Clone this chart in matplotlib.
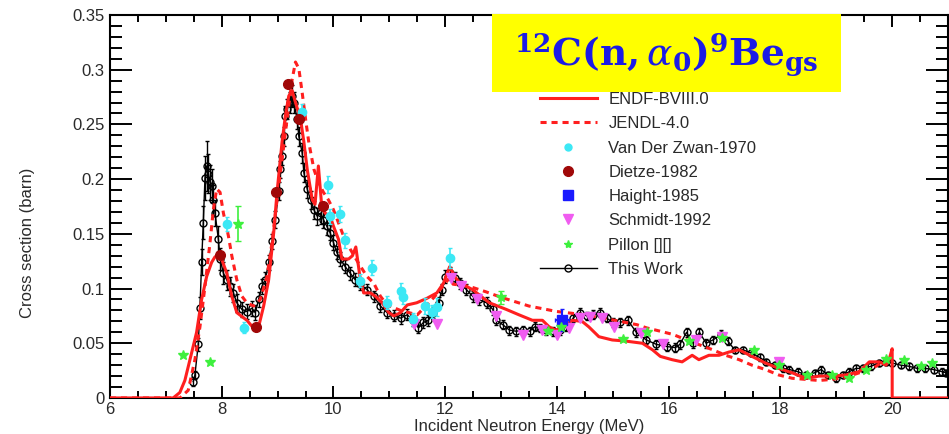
import numpy as np
import matplotlib
matplotlib.use("Agg")
import matplotlib.pyplot as plt
from matplotlib.lines import Line2D
from matplotlib.patches import Rectangle
from matplotlib.ticker import MultipleLocator, FuncFormatter

plt.rcParams["font.family"] = ["Liberation Sans", "DejaVu Sans"]
plt.rcParams["mathtext.fontset"] = "dejavuserif"

# ---------------- evaluated data ----------------
endf_e = [6.0, 7.13, 7.25, 7.34, 7.46, 7.55, 7.64, 7.73, 7.82, 7.88,
          7.97, 8.09, 8.18, 8.27, 8.45, 8.60, 8.66, 8.75, 8.84, 8.93,
          8.99, 9.08, 9.14, 9.20, 9.26, 9.32, 9.41, 9.47, 9.53, 9.62,
          9.67, 9.73, 9.79, 9.85, 9.94, 10.00, 10.09, 10.15, 10.27, 10.34,
          10.40, 10.47, 10.54, 10.66, 10.75, 10.87, 10.99, 11.08, 11.20, 11.32,
          11.49, 11.67, 11.85, 11.97, 12.08, 12.17, 12.26, 12.38, 12.49, 12.79,
          13.09, 13.32, 13.56, 13.74, 13.86, 13.98, 14.12, 14.27, 14.45, 14.57,
          14.75, 14.99, 15.23, 15.53, 15.71, 15.85, 16.06, 16.24, 16.42, 16.54,
          16.72, 16.90, 17.08, 17.26, 17.49, 17.73, 17.97, 18.21, 18.45, 18.69,
          18.93, 19.17, 19.41, 19.59, 19.77, 19.89, 19.95, 20.0, 20.0, 21.0]
endf_xs = [0.0, 0.0, 0.005, 0.016, 0.041, 0.060, 0.090, 0.111, 0.124, 0.129,
           0.131, 0.114, 0.093, 0.078, 0.071, 0.062, 0.065, 0.084, 0.108, 0.151,
           0.188, 0.234, 0.258, 0.276, 0.281, 0.270, 0.255, 0.234, 0.209, 0.181,
           0.177, 0.212, 0.175, 0.169, 0.166, 0.157, 0.145, 0.127, 0.127, 0.130,
           0.138, 0.112, 0.096, 0.096, 0.093, 0.087, 0.078, 0.075, 0.078, 0.085,
           0.087, 0.091, 0.096, 0.105, 0.120, 0.111, 0.105, 0.102, 0.099, 0.087,
           0.081, 0.076, 0.071, 0.071, 0.065, 0.062, 0.065, 0.071, 0.070, 0.065,
           0.056, 0.053, 0.052, 0.050, 0.044, 0.038, 0.035, 0.033, 0.039, 0.035,
           0.039, 0.039, 0.042, 0.044, 0.038, 0.032, 0.027, 0.023, 0.018, 0.020,
           0.020, 0.021, 0.024, 0.033, 0.033, 0.030, 0.036, 0.045, 0.0, 0.0]

jendl_e = [6.0, 7.25, 7.40, 7.52, 7.61, 7.70, 7.79, 7.85, 7.91, 7.97,
           8.03, 8.12, 8.18, 8.27, 8.36, 8.45, 8.57, 8.69, 8.81, 8.90,
           8.99, 9.08, 9.17, 9.26, 9.32, 9.38, 9.44, 9.50, 9.56, 9.65,
           9.73, 9.82, 9.91, 10.00, 10.09, 10.18, 10.30, 10.45, 10.60, 10.72,
           10.84, 10.96, 11.20, 11.50, 11.80, 12.08, 12.14, 12.43, 12.73, 13.00,
           13.50, 14.00, 14.50, 14.83, 15.13, 15.43, 15.61, 15.85, 16.08, 16.32,
           16.79, 17.02, 17.26, 17.49, 17.73, 17.97, 18.21, 18.45, 18.69, 18.93,
           19.17, 19.41, 19.65, 19.83, 19.95, 20.0]
jendl_xs = [0.0, 0.0, 0.007, 0.035, 0.065, 0.102, 0.142, 0.172, 0.191, 0.188,
            0.169, 0.148, 0.130, 0.108, 0.093, 0.087, 0.084, 0.090, 0.111, 0.142,
            0.181, 0.218, 0.255, 0.291, 0.307, 0.301, 0.279, 0.255, 0.233, 0.209,
            0.197, 0.188, 0.181, 0.172, 0.160, 0.148, 0.136, 0.123, 0.111, 0.105,
            0.093, 0.085, 0.080, 0.076, 0.092, 0.110, 0.104, 0.102, 0.097, 0.092,
            0.084, 0.079, 0.076, 0.073, 0.070, 0.067, 0.064, 0.061, 0.058, 0.053,
            0.044, 0.039, 0.035, 0.030, 0.026, 0.021, 0.018, 0.017, 0.016, 0.017,
            0.019, 0.023, 0.027, 0.033, 0.036, 0.037]

# ---------------- older measurements ----------------
vdz_e = [8.09, 8.39, 9.43, 9.91, 9.94, 10.12, 10.21, 10.48, 10.69, 10.96,
         11.20, 11.24, 11.42, 11.64, 11.77, 11.85, 12.08]
vdz_xs = [0.159, 0.064, 0.261, 0.195, 0.166, 0.168, 0.144, 0.107, 0.119, 0.087,
          0.098, 0.092, 0.072, 0.084, 0.079, 0.083, 0.128]
vdz_err = [0.006, 0.005, 0.008, 0.008, 0.007, 0.007, 0.007, 0.006, 0.007, 0.006,
           0.007, 0.006, 0.006, 0.007, 0.006, 0.008, 0.009]

dietze_e = [7.97, 8.62, 8.97, 9.19, 9.39, 9.82]
dietze_xs = [0.131, 0.065, 0.188, 0.287, 0.255, 0.175]

haight_e = [14.09]
haight_xs = [0.071]
haight_xerr = [0.13]
haight_yerr = [0.010]

schmidt_e = [11.45, 11.86, 12.10, 12.28, 12.56, 12.91, 13.39, 13.74, 14.00, 14.21,
             14.41, 14.60, 14.80, 15.02, 15.50, 15.90, 16.48, 16.95, 17.98]
schmidt_xs = [0.068, 0.068, 0.110, 0.102, 0.090, 0.075, 0.058, 0.062, 0.058, 0.064,
              0.073, 0.074, 0.073, 0.065, 0.059, 0.049, 0.053, 0.056, 0.033]

pillon_e = [7.31, 7.79, 8.29, 13.00, 13.84, 14.07, 15.19, 15.61, 16.36, 16.95,
            17.52, 17.97, 18.48, 18.93, 19.23, 19.53, 19.89, 20.22, 20.52, 20.71]
pillon_xs = [0.039, 0.033, 0.159, 0.092, 0.061, 0.065, 0.054, 0.060, 0.052, 0.055,
             0.044, 0.030, 0.021, 0.021, 0.018, 0.026, 0.036, 0.035, 0.029, 0.032]
pillon_err = [0.0, 0.0, 0.016, 0.006, 0.0, 0.0, 0.0, 0.0, 0.0, 0.0,
              0.0, 0.0, 0.0, 0.0, 0.0, 0.0, 0.0, 0.0, 0.0, 0.0]

# ---------------- this measurement ----------------
tw_e = [7.49, 7.52, 7.58, 7.61, 7.64, 7.67, 7.70, 7.73, 7.76, 7.79,
        7.82, 7.85, 7.88, 7.94, 7.97, 8.03, 8.09, 8.15, 8.21, 8.27,
        8.36, 8.45, 8.54, 8.60, 8.66, 8.72, 8.78, 8.84, 8.90, 8.96,
        9.02, 9.05, 9.08, 9.11, 9.14, 9.17, 9.22, 9.26, 9.29, 9.35,
        9.38, 9.44, 9.47, 9.53, 9.59, 9.65, 9.71, 9.77, 9.82, 9.88,
        9.94, 10.00, 10.06, 10.12, 10.21, 10.30, 10.39, 10.48, 10.60, 10.72,
        10.84, 10.96, 11.08, 11.20, 11.32, 11.43, 11.52, 11.61, 11.70, 11.79,
        11.88, 11.94, 12.00, 12.08, 12.17, 12.26, 12.38, 12.49, 12.60, 12.74,
        12.85, 12.91, 13.03, 13.15, 13.27, 13.39, 13.51, 13.60, 13.69, 13.81,
        13.93, 14.05, 14.17, 14.29, 14.41, 14.53, 14.65, 14.77, 14.89, 15.00,
        15.12, 15.27, 15.42, 15.60, 15.78, 15.97, 16.12, 16.20, 16.32, 16.43,
        16.55, 16.67, 16.79, 16.94, 17.06, 17.18, 17.33, 17.48, 17.63, 17.75,
        17.90, 18.05, 18.16, 18.31, 18.46, 18.61, 18.73, 18.85, 19.00, 19.12,
        19.23, 19.35, 19.47, 19.62, 19.77, 19.89, 20.00, 20.15, 20.30, 20.45,
        20.59, 20.74, 20.89, 20.97]
tw_xs = [0.015, 0.021, 0.049, 0.082, 0.124, 0.160, 0.201, 0.212, 0.205, 0.197,
         0.194, 0.181, 0.169, 0.145, 0.127, 0.114, 0.108, 0.102, 0.096, 0.087,
         0.081, 0.079, 0.082, 0.078, 0.090, 0.102, 0.108, 0.124, 0.143, 0.163,
         0.189, 0.209, 0.221, 0.239, 0.258, 0.264, 0.270, 0.276, 0.270, 0.255,
         0.239, 0.224, 0.206, 0.191, 0.181, 0.172, 0.166, 0.169, 0.163, 0.157,
         0.151, 0.142, 0.133, 0.127, 0.120, 0.114, 0.108, 0.104, 0.099, 0.093,
         0.084, 0.078, 0.075, 0.073, 0.076, 0.071, 0.064, 0.069, 0.071, 0.078,
         0.087, 0.099, 0.111, 0.114, 0.110, 0.105, 0.099, 0.093, 0.090, 0.087,
         0.081, 0.071, 0.067, 0.062, 0.061, 0.062, 0.061, 0.065, 0.064, 0.062,
         0.061, 0.062, 0.065, 0.073, 0.078, 0.075, 0.076, 0.078, 0.073, 0.069,
         0.069, 0.071, 0.060, 0.053, 0.049, 0.047, 0.046, 0.049, 0.060, 0.050,
         0.060, 0.050, 0.053, 0.058, 0.052, 0.044, 0.044, 0.041, 0.037, 0.033,
         0.030, 0.027, 0.026, 0.024, 0.021, 0.023, 0.026, 0.021, 0.018, 0.021,
         0.024, 0.027, 0.027, 0.029, 0.032, 0.033, 0.032, 0.030, 0.029, 0.027,
         0.027, 0.026, 0.024, 0.023]
tw_err = [0.004, 0.004, 0.006, 0.010, 0.012, 0.015, 0.020, 0.023, 0.018, 0.016,
          0.015, 0.014, 0.012, 0.012, 0.010, 0.010, 0.009, 0.009, 0.008, 0.008,
          0.007, 0.007, 0.007, 0.007, 0.007, 0.007, 0.007, 0.007, 0.007, 0.008,
          0.008, 0.008, 0.008, 0.009, 0.009, 0.009, 0.010, 0.010, 0.010, 0.009,
          0.009, 0.009, 0.009, 0.008, 0.008, 0.008, 0.008, 0.010, 0.008, 0.008,
          0.007, 0.007, 0.006, 0.006, 0.006, 0.006, 0.006, 0.005, 0.005, 0.005,
          0.005, 0.005, 0.005, 0.005, 0.005, 0.005, 0.005, 0.005, 0.005, 0.005,
          0.005, 0.005, 0.006, 0.006, 0.005, 0.005, 0.005, 0.005, 0.005, 0.005,
          0.005, 0.004, 0.004, 0.004, 0.004, 0.004, 0.004, 0.004, 0.004, 0.004,
          0.004, 0.004, 0.004, 0.004, 0.004, 0.004, 0.004, 0.004, 0.004, 0.004,
          0.004, 0.004, 0.004, 0.004, 0.004, 0.004, 0.004, 0.004, 0.004, 0.004,
          0.004, 0.004, 0.004, 0.004, 0.004, 0.003, 0.003, 0.003, 0.003, 0.003,
          0.003, 0.003, 0.003, 0.003, 0.003, 0.003, 0.003, 0.003, 0.003, 0.003,
          0.003, 0.003, 0.003, 0.003, 0.003, 0.003, 0.003, 0.003, 0.003, 0.003,
          0.003, 0.003, 0.003, 0.003]

RED = "#ff1f1f"
CYAN = "#3ce8f5"
DARKRED = "#a00808"
BLUE = "#1a1aff"
MAGENTA = "#f05cf0"
GREEN = "#3ef03e"
TXT = "#2a2a2a"

fig = plt.figure(figsize=(9.49, 4.34), dpi=100)
ax = fig.add_axes([0.1159, 0.083, 0.8831, 0.8825])

ax.errorbar(tw_e, tw_xs, yerr=tw_err, color="black", lw=1.0, elinewidth=1.0,
            capsize=1.5, marker="o", ms=5, mfc="none", mec="black", mew=1.0,
            zorder=2)
ax.plot(endf_e, endf_xs, color=RED, lw=2.2, zorder=3)
ax.plot(jendl_e, jendl_xs, color=RED, lw=2.2, ls=(0, (2.0, 1.6)), zorder=3)

ax.errorbar(vdz_e, vdz_xs, yerr=vdz_err, fmt="o", color=CYAN, ms=6,
            elinewidth=1.2, capsize=1.5, zorder=4)
ax.plot(dietze_e, dietze_xs, "o", color=DARKRED, ms=7, zorder=5)
ax.errorbar(haight_e, haight_xs, xerr=haight_xerr, yerr=haight_yerr, fmt="s",
            color=BLUE, ms=6.5, elinewidth=1.5, capsize=1.5, zorder=5)
ax.plot(schmidt_e, schmidt_xs, "v", color=MAGENTA, ms=6.5, zorder=4)
ax.errorbar(pillon_e, pillon_xs, yerr=pillon_err, fmt="*", color=GREEN, ms=7,
            elinewidth=1.2, capsize=2.5, zorder=5)

ax.set_xlim(6, 21)
ax.set_ylim(0, 0.35)
ax.xaxis.set_major_locator(MultipleLocator(2))
ax.xaxis.set_minor_locator(MultipleLocator(0.5))
ax.yaxis.set_major_locator(MultipleLocator(0.05))
ax.yaxis.set_minor_locator(MultipleLocator(0.01))
ax.yaxis.set_major_formatter(FuncFormatter(lambda v, _: f"{v:g}"))
ax.xaxis.set_major_formatter(FuncFormatter(lambda v, _: f"{v:g}"))

ax.tick_params(which="both", direction="in", top=True, right=True,
               width=1.4, labelsize=12, labelcolor=TXT)
ax.tick_params(axis="x", which="major", length=8.6, pad=3)
ax.tick_params(axis="x", which="minor", length=5)
ax.tick_params(axis="y", which="major", length=16, pad=4)
ax.tick_params(axis="y", which="minor", length=8.5)
for sp in ax.spines.values():
    sp.set_linewidth(1.5)

ax.set_xlabel("Incident Neutron Energy (MeV)", fontsize=12, color=TXT,
              labelpad=1)
fig.text(0.0295, 0.44, "Cross section (barn)", rotation=90, fontsize=12,
         color=TXT, ha="center", va="center")

# legend
handles = [
    Line2D([], [], color=RED, lw=2.2),
    Line2D([], [], color=RED, lw=2.2, ls=(0, (2.0, 1.6))),
    Line2D([], [], color=CYAN, marker="o", ls="none", ms=5),
    Line2D([], [], color=DARKRED, marker="o", ls="none", ms=7),
    Line2D([], [], color=BLUE, marker="s", ls="none", ms=6.5),
    Line2D([], [], color=MAGENTA, marker="v", ls="none", ms=6.5),
    Line2D([], [], color=GREEN, marker="*", ls="none", ms=6),
    Line2D([], [], color="black", lw=1.0, marker="o", ms=5, mfc="none"),
]
labels = ["ENDF-BVIII.0", "JENDL-4.0", "Van Der Zwan-1970", "Dietze-1982",
          "Haight-1985", "Schmidt-1992", "Pillon [][]", "This Work"]
fig.legend(handles, labels, loc="upper left", bbox_to_anchor=(0.569, 0.788),
           frameon=False, fontsize=12, handlelength=3.4, handletextpad=0.7,
           labelspacing=0.555, borderpad=0, borderaxespad=0, labelcolor=TXT)

# reaction label
fig.add_artist(Rectangle((492 / 949, 1 - 92 / 434), 349 / 949, 78 / 434,
                         transform=fig.transFigure, facecolor="#ffff00",
                         edgecolor="none", zorder=10))
fig.text(666 / 949, 1 - 55 / 434,
         r"$\mathbf{^{12}C(n,}\alpha_\mathbf{0}\mathbf{)^{9}Be_{gs}}$",
         fontsize=27, color="#1c1ce6", ha="center", va="center", zorder=11)

fig.savefig("out.png", dpi=100)
